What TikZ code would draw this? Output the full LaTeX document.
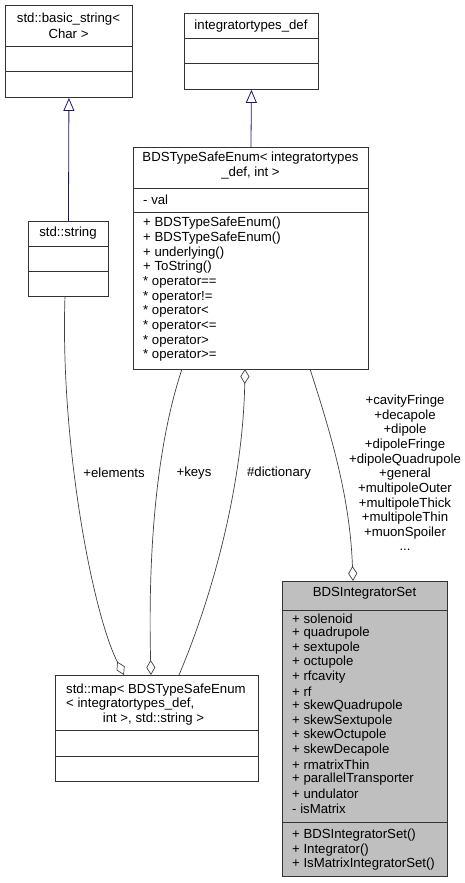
\documentclass[tikz,border=0pt]{standalone}
\usepackage{fontspec}
\setmainfont{Liberation Sans}
\usetikzlibrary{arrows.meta}
\definecolor{edgegray}{HTML}{404040}
\definecolor{inhblue}{HTML}{191970}
\definecolor{fillgray}{HTML}{BFBFBF}
\begin{document}
\begin{tikzpicture}[x=1pt,y=-1pt,
  umlbox/.style={draw=black!80, line width=0.9pt, inner sep=0pt, anchor=north west},
  sepline/.style={draw=black!80, line width=0.9pt},
  txt/.style={inner sep=0pt, font=\fontsize{13.2}{14.67}\selectfont},
  inh/.style={draw=inhblue, line width=0.8pt, -{Triangle[open, length=13pt, width=11pt]}},
  agg/.style={draw=edgegray, line width=0.7pt, {Diamond[open, length=15pt, width=9pt]}-},
]
\useasboundingbox (0,0) rectangle (465,883);

% std::basic_string< Char >
\node[umlbox, minimum width=127pt, minimum height=92pt] (basestr) at (5,5) {};
\draw[sepline] (5,46) -- (132,46);
\draw[sepline] (5,71) -- (132,71);
\node[txt] (basestrT1) at (68.5,19) {std::basic\_string<};
\node[txt] (basestrT2) at (68.5,33.5) {Char >};

% integratortypes_def
\node[umlbox, minimum width=134pt, minimum height=76pt] (itd) at (184,13) {};
\draw[sepline] (184,38) -- (318,38);
\draw[sepline] (184,63) -- (318,63);
\node[txt] (itdT) at (251,26) {integratortypes\_def};

% BDSTypeSafeEnum
\node[umlbox, minimum width=235pt, minimum height=222pt] (enum) at (133,147) {};
\draw[sepline] (133,188) -- (368,188);
\draw[sepline] (133,212) -- (368,212);
\node[txt] (enumT1) at (250.5,158.5) {BDSTypeSafeEnum< integratortypes};
\node[txt] (enumT2) at (250.5,173) {\_def, int >};
\node[txt, anchor=west] (enumA1) at (143,199.5) {- val};
\foreach \t [count=\i from 0] in {+ BDSTypeSafeEnum(),+ BDSTypeSafeEnum(),+ underlying(),+ ToString(),* operator==,* operator!=,* operator<,* operator<=,* operator>,* operator>=}
  \node[txt, anchor=west] (enumM\i) at (143,{223.5+14.67*\i}) {\t};

% std::string
\node[umlbox, minimum width=80pt, minimum height=75pt] (str) at (28,221) {};
\draw[sepline] (28,246) -- (108,246);
\draw[sepline] (28,271) -- (108,271);
\node[txt] (strT) at (68,233) {std::string};

% std::map
\node[umlbox, minimum width=203pt, minimum height=106pt] (map) at (55,675) {};
\draw[sepline] (55,730) -- (258,730);
\draw[sepline] (55,756) -- (258,756);
\node[txt, anchor=west] (mapT1) at (66,690) {std::map< BDSTypeSafeEnum};
\node[txt, anchor=west] (mapT2) at (66,704.5) {< integratortypes\_def,};
\node[txt] (mapT3) at (153.5,719) {int >, std::string >};

% BDSIntegratorSet
\node[umlbox, fill=fillgray, minimum width=165pt, minimum height=295pt] (integ) at (282,581) {};
\draw[sepline] (282,610) -- (447,610);
\draw[sepline] (282,822) -- (447,822);
\node[txt] (integT) at (364.5,593) {BDSIntegratorSet};
\foreach \t [count=\i from 0] in {+ solenoid,+ quadrupole,+ sextupole,+ octupole,+ rfcavity,+ rf,+ skewQuadrupole,+ skewSextupole,+ skewOctupole,+ skewDecapole,+ rmatrixThin,+ parallelTransporter,+ undulator,- isMatrix}
  \node[txt, anchor=west] (integA\i) at (292,{618.5+14.6*\i}) {\t};
\foreach \t [count=\i from 0] in {+ BDSIntegratorSet(),+ Integrator(),+ IsMatrixIntegratorSet()}
  \node[txt, anchor=west] (integM\i) at (292,{835+14.6*\i}) {\t};

% inheritance
\draw[inh] (str.north) -- (basestr.south);
\draw[inh] (enum.north) -- (itd.south);

% aggregation connectors
\coordinate (mapE) at (124,675);
\coordinate (mapK) at (151,675);
\coordinate (mapD) at (179,675);
\coordinate (enumK) at (182,369);
\coordinate (enumD) at (245,369);
\coordinate (enumI) at (310,369);
\coordinate (integI) at (353,581);
\coordinate (strE) at (65,296);

\draw[agg] (mapE) .. controls (92,612) and (60,440) .. (strE);
\draw[agg] (mapK) .. controls (148,560) and (155,450) .. (enumK);
\draw[agg] (enumD) .. controls (243,480) and (215,590) .. (mapD);
\draw[agg] (integI) .. controls (350,500) and (333,440) .. (enumI);

% labels
\node[txt] (lblE) at (114,473) {+elements};
\node[txt] (lblK) at (194,473) {+keys};
\node[txt] (lblD) at (279,473) {\#dictionary};
\foreach \t [count=\i from 0] in {+cavityFringe,+decapole,+dipole,+dipoleFringe,+dipoleQuadrupole,+general,+multipoleOuter,+multipoleThick,+multipoleThin,+muonSpoiler}
  \node[txt] (lblI\i) at (405,{401+14.67*\i}) {\t};
\node[txt] (lblIdots) at (405,550) {...};
\end{tikzpicture}
\end{document}
